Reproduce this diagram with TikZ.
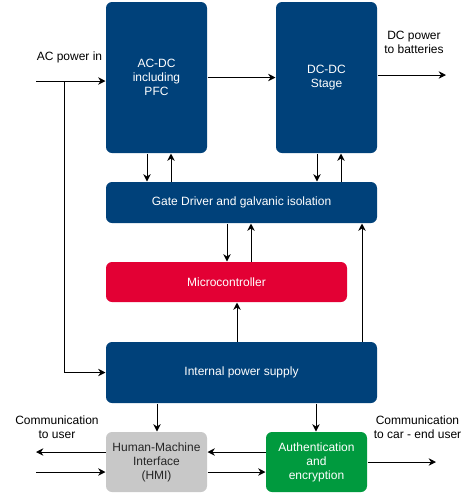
\documentclass[tikz,border=0pt]{standalone}
\usepackage{fontspec}
\setmainfont{Liberation Sans}
\usetikzlibrary{arrows.meta}
\definecolor{ifxblue}{HTML}{00417A}
\definecolor{ifxred}{HTML}{E30034}
\definecolor{ifxgreen}{HTML}{009A3E}
\definecolor{ifxgray}{HTML}{C8C8C8}

\begin{document}
\begin{tikzpicture}[x=0.75pt, y=-0.75pt, line width=0.75pt,
    >={Stealth[length=5.5pt, width=5.5pt, inset=1.8pt]},
    font=\fontsize{9}{10.5}\selectfont,
    block/.style={rounded corners=4.5pt, text=white, align=center, inner sep=0pt}]
    \useasboundingbox (0, 0) rectangle (474, 494);
    % power stages
    \node [block, fill=ifxblue, minimum width=75.75pt, minimum height=113.25pt] (1) at (156.5, 77.5) {AC-DC\\including\\PFC};
    \node [block, fill=ifxblue, minimum width=75.75pt, minimum height=113.25pt] (2) at (326.5, 77.5) {DC-DC\\Stage};
    \node [block, fill=ifxblue, minimum width=203.25pt, minimum height=30.75pt] (3) at (241.5, 202.5) {Gate Driver and galvanic isolation};
    % control
    \node [block, fill=ifxred, minimum width=180.75pt, minimum height=30pt] (4) at (226.5, 282) {Microcontroller};
    \node [block, fill=ifxblue, minimum width=203.25pt, minimum height=45.75pt] (5) at (241.5, 372.5) {Internal power supply};
    % communication
    \node [block, fill=ifxgray, text=black!85, minimum width=75.75pt, minimum height=45pt] (6) at (156.5, 462) {Human-Machine\\Interface\\(HMI)};
    \node [block, fill=ifxgreen, minimum width=75.75pt, minimum height=45pt] (7) at (316.5, 462) {Authentication\\and\\encryption};
    % labels
    \node  (10) at (69.5, 57) {AC power in};
    \node [align=center] (11) at (414, 42) {DC power\\to batteries};
    \node [align=center] (12) at (57, 427) {Communication\\to user};
    \node [align=center] (13) at (417.5, 427) {Communication\\to car - end user};
    % free ends
    \coordinate (20) at (36, 81); % AC in
    \coordinate (21) at (64, 81); % branch
    \coordinate (22) at (446, 75); % DC out
    \coordinate (23) at (36, 452);
    \coordinate (24) at (36, 472);
    \coordinate (25) at (436, 462);
    % power path
    \draw [->] (20) to (1.west |- 20);
    \draw [->] (21) |- (5.west);
    \draw [->] (1) to (2);
    \draw [->] (2.east |- 22) to (22);
    % gate driver links
    \draw [->] (1.south -| 147, 0) to (3.north -| 147, 0);
    \draw [->] (3.north -| 171, 0) to (1.south -| 171, 0);
    \draw [->] (2.south -| 317, 0) to (3.north -| 317, 0);
    \draw [->] (3.north -| 341, 0) to (2.south -| 341, 0);
    \draw [->] (3.south -| 227, 0) to (4.north -| 227, 0);
    \draw [->] (4.north -| 251, 0) to (3.south -| 251, 0);
    % supply links
    \draw [->] (5.north -| 362, 0) to (3.south -| 362, 0);
    \draw [->] (5.north -| 237, 0) to (4.south -| 237, 0);
    \draw [->] (5.south -| 157, 0) to (6.north -| 157, 0);
    \draw [->] (5.south -| 316, 0) to (7.north -| 316, 0);
    % communication links
    \draw [->] (7.west |- 0, 452) to (6.east |- 0, 452);
    \draw [->] (6.east |- 0, 472) to (7.west |- 0, 472);
    \draw [->] (6.west |- 23) to (23);
    \draw [->] (24) to (6.west |- 24);
    \draw [->] (7.east |- 25) to (25);
\end{tikzpicture}
\end{document}
